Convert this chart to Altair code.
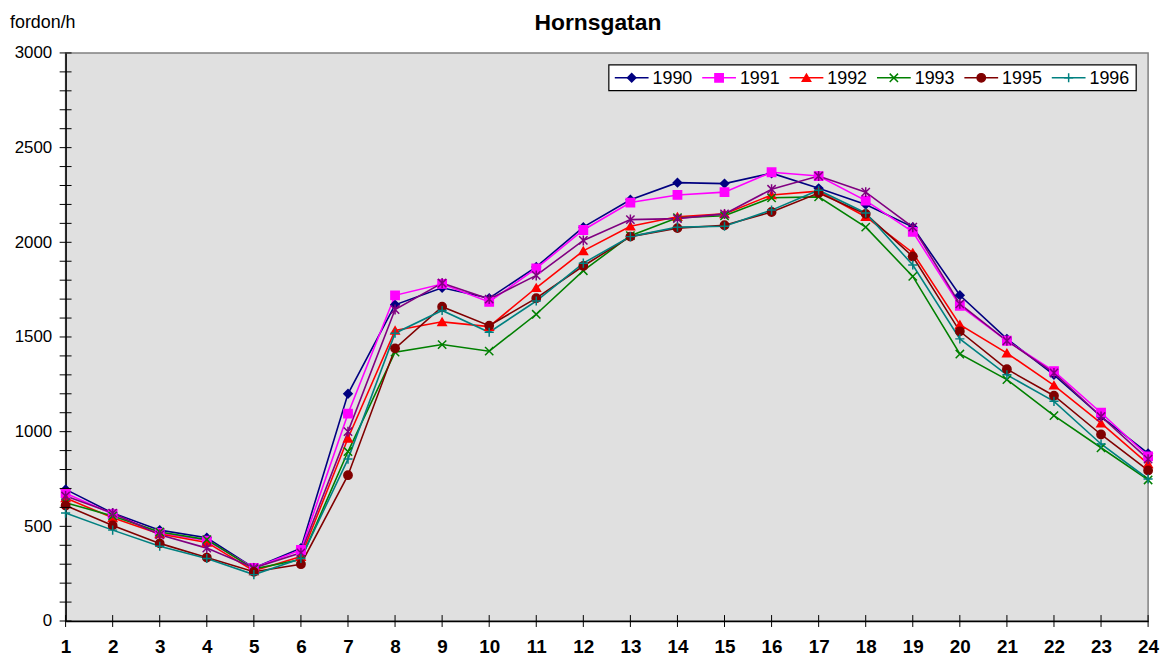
import altair as alt
import pandas as pd

hours = list(range(1, 25))
years = ["1990", "1991", "1992", "1993", "1994", "1995", "1996"]
legend_years = ["1990", "1991", "1992", "1993", "1995", "1996"]

y1990 = [695, 570, 480, 440, 280, 385, 1200, 1670, 1760, 1705, 1870, 2080, 2225, 2315, 2310, 2365, 2285, 2200, 2080, 1720, 1490, 1300, 1080, 885]
y1991 = [675, 565, 465, 425, 280, 375, 1095, 1720, 1780, 1685, 1862, 2065, 2210, 2250, 2265, 2370, 2350, 2220, 2055, 1665, 1480, 1320, 1100, 870]
y1992 = [650, 545, 460, 415, 265, 340, 965, 1535, 1580, 1555, 1760, 1955, 2085, 2135, 2150, 2250, 2270, 2135, 1945, 1565, 1415, 1245, 1045, 830]
y1993 = [625, 555, 470, 430, 275, 325, 895, 1420, 1460, 1425, 1620, 1850, 2035, 2130, 2140, 2235, 2240, 2080, 1820, 1410, 1275, 1085, 915, 745]
y1994 = [660, 570, 455, 385, 280, 360, 1000, 1645, 1785, 1700, 1825, 2010, 2120, 2125, 2150, 2280, 2350, 2265, 2080, 1675, 1480, 1310, 1080, 855]
y1995 = [610, 505, 410, 335, 260, 300, 770, 1440, 1660, 1560, 1705, 1875, 2030, 2075, 2090, 2160, 2260, 2150, 1925, 1530, 1330, 1190, 985, 795]
y1996 = [570, 480, 395, 330, 245, 330, 855, 1520, 1640, 1525, 1690, 1890, 2030, 2080, 2085, 2170, 2275, 2155, 1880, 1490, 1300, 1160, 935, 750]

series = {"1990": y1990, "1991": y1991, "1992": y1992, "1993": y1993,
          "1994": y1994, "1995": y1995, "1996": y1996}

colors = ["#000080", "#FF00FF", "#FF0000", "#008000", "#800080", "#800000", "#008080"]
shapes = ["diamond", "square", "triangle-up",
          "M-1,-1L1,1M-1,1L1,-1",
          "M-1,-1L1,1M-1,1L1,-1M0,-1.2L0,1.2",
          "circle",
          "M-1.1,0L1.1,0M0,-1.1L0,1.1"]

rows = []
for order, yr in enumerate(years):
    for h, v in zip(hours, series[yr]):
        rows.append({"hour": h, "value": v, "year": yr, "ord": order})
df = pd.DataFrame(rows)

W, H = 1090, 572
FONT = "Liberation Sans"

x_axis = alt.Axis(values=hours, format="d", labelFont=FONT, labelFontSize=19,
                  labelFontWeight="bold", labelColor="black", ticks=False,
                  labelPadding=17, domainColor="black", domainWidth=1.5,
                  grid=False, title=None, labelFlush=False, labelOverlap=False)
y_axis = alt.Axis(values=list(range(0, 3001, 500)), format="d", labelFont=FONT,
                  labelFontSize=17, labelColor="black", ticks=False, labelPadding=14,
                  domainColor="black", domainWidth=1.5, grid=False, title=None,
                  labelFlush=False, labelOverlap=False)

def X():
    return alt.X("hour:Q", scale=alt.Scale(domain=[1, 24], nice=False, zero=False), axis=x_axis)

def Y():
    return alt.Y("value:Q", scale=alt.Scale(domain=[0, 3000], nice=False, zero=True), axis=y_axis)

cscale = alt.Scale(domain=years, range=colors)
sscale = alt.Scale(domain=years, range=shapes)

lines = alt.Chart(df).mark_line(strokeWidth=1.6).encode(
    x=X(), y=Y(),
    color=alt.Color("year:N", scale=cscale, legend=None),
    order=alt.Order("hour:Q"),
)

points = alt.Chart(df).mark_point(filled=True, size=70, strokeWidth=1.5, opacity=1).encode(
    x=X(), y=Y(),
    color=alt.Color("year:N", scale=cscale, legend=None),
    stroke=alt.Stroke("year:N", scale=cscale, legend=None),
    shape=alt.Shape("year:N", scale=sscale, legend=None),
    order=alt.Order("ord:Q"),
)

# crossing tick marks
ytick_df = pd.DataFrame({"value": list(range(0, 3001, 100))})
yticks = alt.Chart(ytick_df).mark_rule(color="black", strokeWidth=1).encode(
    y=Y(), x=alt.value(-6), x2=alt.value(6))
xtick_df = pd.DataFrame({"hour": hours})
xticks = alt.Chart(xtick_df).mark_rule(color="black", strokeWidth=1).encode(
    x=X(), y=alt.value(H - 6), y2=alt.value(H + 6))

# legend (layout in pixels, converted to hour units)
def px2h(p):
    return 1 + p * 23 / W

leg_rows = []
for i, yr in enumerate(legend_years):
    base = 553 + 88 * i
    leg_rows.append({"year": yr, "hour": px2h(base), "hour2": px2h(base + 34),
                     "mx": px2h(base + 17), "tx": px2h(base + 38)})
leg_df = pd.DataFrame(leg_rows)

leg_box = alt.Chart(pd.DataFrame({"a": [0]})).mark_rect(
    fill="white", stroke="black", strokeWidth=1.2).encode(
    x=alt.value(547), x2=alt.value(1078), y=alt.value(12), y2=alt.value(38))
leg_lines = alt.Chart(leg_df).mark_rule(strokeWidth=1.6).encode(
    x=X(), x2="hour2:Q", y=alt.value(25),
    color=alt.Color("year:N", scale=cscale, legend=None))
leg_pts = alt.Chart(leg_df).mark_point(filled=True, size=70, strokeWidth=1.5, opacity=1).encode(
    x=alt.X("mx:Q", scale=alt.Scale(domain=[1, 24], nice=False, zero=False), axis=x_axis),
    y=alt.value(25),
    color=alt.Color("year:N", scale=cscale, legend=None),
    stroke=alt.Stroke("year:N", scale=cscale, legend=None),
    shape=alt.Shape("year:N", scale=sscale, legend=None))
leg_txt = alt.Chart(leg_df).mark_text(align="left", baseline="middle", font=FONT,
                                      fontSize=18, color="black").encode(
    x=alt.X("tx:Q", scale=alt.Scale(domain=[1, 24], nice=False, zero=False), axis=x_axis),
    y=alt.value(26), text="year:N")

title = alt.Chart(pd.DataFrame({"t": ["Hornsgatan"]})).mark_text(
    font=FONT, fontSize=23, fontWeight="bold", align="center", baseline="middle",
    color="black").encode(x=alt.value(536), y=alt.value(-30), text="t:N")
ylab = alt.Chart(pd.DataFrame({"t": ["fordon/h"]})).mark_text(
    font=FONT, fontSize=18, align="left", baseline="middle",
    color="black").encode(x=alt.value(-56), y=alt.value(-30), text="t:N")

chart = alt.layer(
    lines, points, yticks, xticks, leg_box, leg_lines, leg_pts, leg_txt, title, ylab
).properties(
    width=W, height=H,
    autosize=alt.AutoSizeParams(type="none"),
    padding={"left": 58, "top": 43, "right": 15, "bottom": 38},
    background="white",
).configure_view(
    fill="#E0E0E0", stroke="#808080", strokeWidth=1.5
)

chart.save("out.html", embed_options={"renderer": "svg", "actions": False})
